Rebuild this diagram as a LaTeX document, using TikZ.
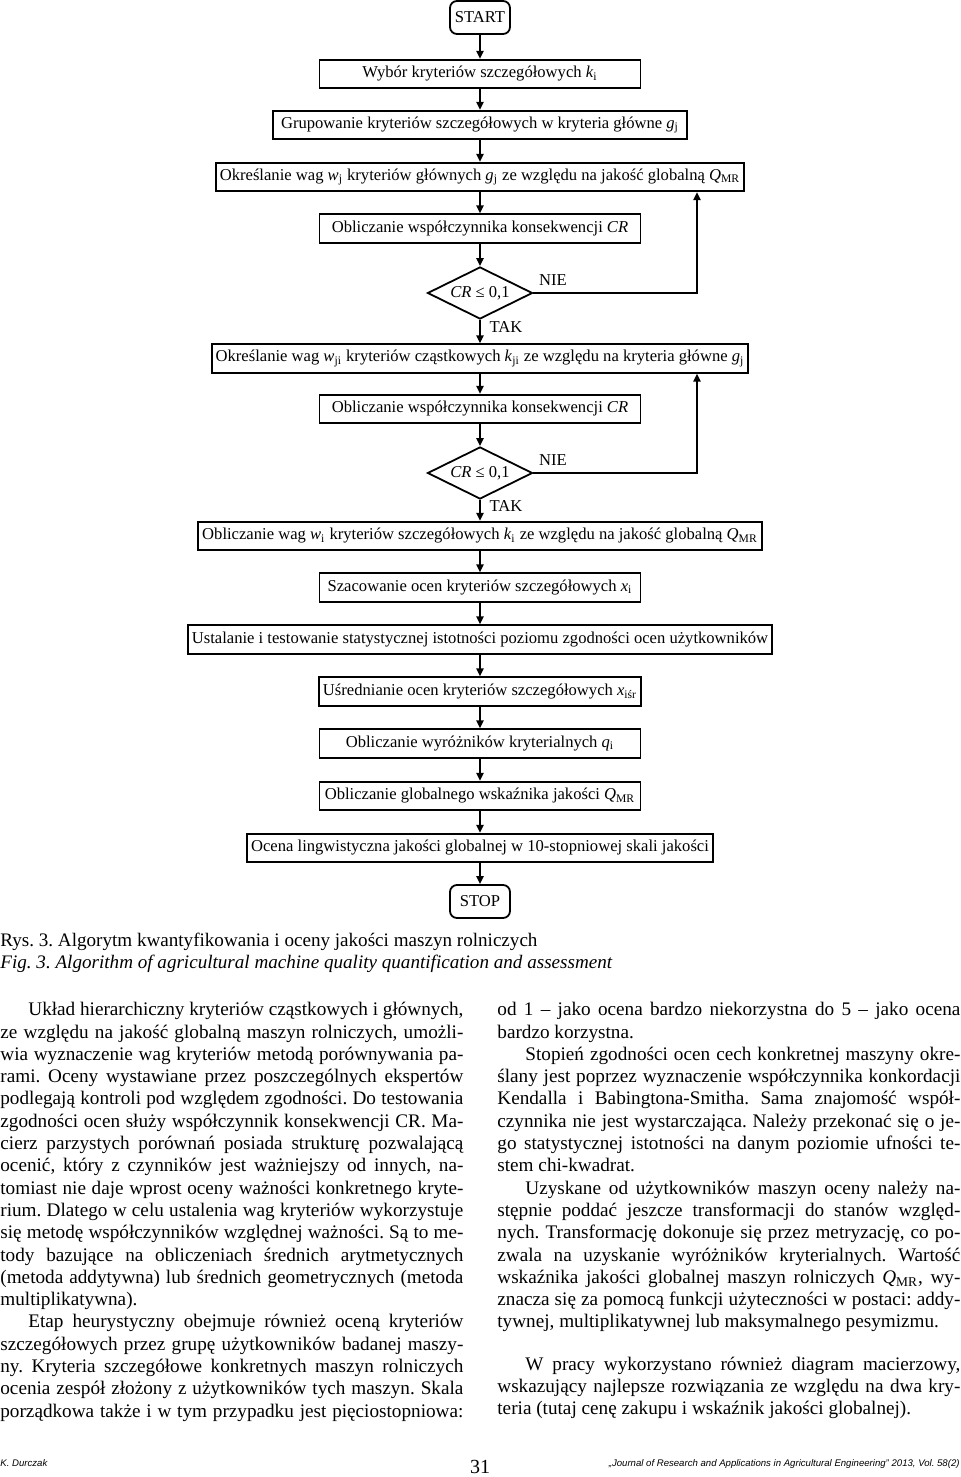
\documentclass[tikz,border=0pt]{standalone}
\usepackage{fontspec}
\setmainfont{Liberation Serif}
\newfontfamily\footsans{Liberation Sans}
\usetikzlibrary{shapes.geometric, arrows.meta, positioning, calc}
\frenchspacing
\newcommand\boxfont{\fontsize{8.3}{10}\selectfont}
\newcommand\bodyfont{\fontsize{9.6}{11.15}\selectfont\parindent=0pt\tolerance=10000\hyphenpenalty=10000\exhyphenpenalty=10000}
\newcommand\ind{\hspace*{14pt}}
\tikzset{
    stepbox/.style={
        rectangle, draw, line width=0.9pt, minimum width=160.5pt, minimum height=14.3pt,
        inner xsep=2pt, inner ysep=1pt, font=\boxfont
    },
    endbox/.style={stepbox, rounded corners=3.5pt, minimum width=30pt, minimum height=16.5pt},
    test/.style={diamond, aspect=2, draw, line width=0.9pt, minimum width=52.5pt, minimum height=26pt, inner sep=0pt, font=\boxfont},
    arrow/.style={-{Triangle[length=4pt, width=3.6pt]}, line width=0.9pt},
    answer/.style={font=\boxfont},
    captext/.style={anchor=base west, inner sep=0pt, font=\fontsize{9.55}{11}\selectfont},
    textcol/.style={anchor=north west, inner sep=0pt, text width=231.5pt, align=justify, font=\bodyfont},
    footer/.style={inner sep=0pt, font=\footsans\itshape\fontsize{4.8}{6}\selectfont},
}
\begin{document}
\begin{tikzpicture}[x=0.5pt, y=-0.5pt]
    \fill[white] (0,0) rectangle (960,1477);

    \node[endbox] (start) at (480,17.5) {START};
    \node[stepbox] (select) at (480,74) {Wybór kryteriów szczegółowych \textit{k}\textsubscript{i}};
    \node[stepbox, minimum width=207pt] (group) at (480,125) {Grupowanie kryteriów szczegółowych w kryteria główne \textit{g}\textsubscript{j}};
    \node[stepbox] (wmain) at (480,177) {Określanie wag \textit{w}\textsubscript{j} kryteriów głównych \textit{g}\textsubscript{j} ze względu na jakość globalną \textit{Q}\textsubscript{MR}};
    \node[stepbox] (cr1) at (480,228.5) {Obliczanie współczynnika konsekwencji \textit{CR}};
    \node[test] (test1) at (480,293) {\textit{CR} ≤ 0,1};
    \node[stepbox] (wpart) at (480,358.5) {Określanie wag \textit{w}\textsubscript{ji} kryteriów cząstkowych \textit{k}\textsubscript{ji} ze względu na kryteria główne \textit{g}\textsubscript{j}};
    \node[stepbox] (cr2) at (480,409) {Obliczanie współczynnika konsekwencji \textit{CR}};
    \node[test] (test2) at (480,473) {\textit{CR} ≤ 0,1};
    \node[stepbox] (wdet) at (480,536) {Obliczanie wag \textit{w}\textsubscript{i} kryteriów szczegółowych \textit{k}\textsubscript{i} ze względu na jakość globalną \textit{Q}\textsubscript{MR}};
    \node[stepbox] (rate) at (480,587.5) {Szacowanie ocen kryteriów szczegółowych \textit{x}\textsubscript{i}};
    \node[stepbox] (agree) at (480,639.5) {Ustalanie i testowanie statystycznej istotności poziomu zgodności ocen użytkowników};
    \node[stepbox] (mean) at (480,691.5) {Uśrednianie ocen kryteriów szczegółowych \textit{x}\textsubscript{iśr}};
    \node[stepbox] (marks) at (480,743.5) {Obliczanie wyróżników kryterialnych \textit{q}\textsubscript{i}};
    \node[stepbox] (index) at (480,796) {Obliczanie globalnego wskaźnika jakości \textit{Q}\textsubscript{MR}};
    \node[stepbox] (scale) at (480,848) {Ocena lingwistyczna jakości globalnej w 10-stopniowej skali jakości};
    \node[endbox] (stop) at (480,901.5) {STOP};
    \coordinate (back) at (697,0);

    \draw[arrow] (start) -- (select);
    \draw[arrow] (select) -- (group);
    \draw[arrow] (group) -- (wmain);
    \draw[arrow] (wmain) -- (cr1);
    \draw[arrow] (cr1) -- (test1);
    \draw[arrow] (test1) -- node[answer, right, pos=0.3, xshift=1pt] {TAK} (wpart);
    \draw[arrow] (test1.east) -- node[answer, above, pos=0.12] {NIE} (test1.east -| back) -- (back |- wmain.south);
    \draw[arrow] (wpart) -- (cr2);
    \draw[arrow] (cr2) -- (test2);
    \draw[arrow] (test2) -- node[answer, right, pos=0.3, xshift=1pt] {TAK} (wdet);
    \draw[arrow] (test2.east) -- node[answer, above, pos=0.12] {NIE} (test2.east -| back) -- (back |- wpart.south);
    \draw[arrow] (wdet) -- (rate);
    \draw[arrow] (rate) -- (agree);
    \draw[arrow] (agree) -- (mean);
    \draw[arrow] (mean) -- (marks);
    \draw[arrow] (marks) -- (index);
    \draw[arrow] (index) -- (scale);
    \draw[arrow] (scale) -- (stop);

    \node[captext] (rys) at (0,946) {Rys. 3. Algorytm kwantyfikowania i oceny jakości maszyn rolniczych};
    \node[captext] (fig) at (0,968) {\textit{Fig. 3. Algorithm of agricultural machine quality quantification and assessment}};

    \node[textcol] (left) at (0,1002) {\ind Układ hierarchiczny kryteriów cząstkowych i głównych,\linebreak
        ze względu na jakość globalną maszyn rolniczych, umożli-\linebreak
        wia wyznaczenie wag kryteriów metodą porównywania pa-\linebreak
        rami. Oceny wystawiane przez poszczególnych ekspertów\linebreak
        podlegają kontroli pod względem zgodności. Do testowania\linebreak
        zgodności ocen służy współczynnik konsekwencji CR. Ma-\linebreak
        cierz parzystych porównań posiada strukturę pozwalającą\linebreak
        ocenić, który z czynników jest ważniejszy od innych, na-\linebreak
        tomiast nie daje wprost oceny ważności konkretnego kryte-\linebreak
        rium. Dlatego w celu ustalenia wag kryteriów wykorzystuje\linebreak
        się metodę współczynników względnej ważności. Są to me-\linebreak
        tody bazujące na obliczeniach średnich arytmetycznych\linebreak
        (metoda addytywna) lub średnich geometrycznych (metoda\linebreak
        multiplikatywna).\par
        \ind Etap heurystyczny obejmuje również oceną kryteriów\linebreak
        szczegółowych przez grupę użytkowników badanej maszy-\linebreak
        ny. Kryteria szczegółowe konkretnych maszyn rolniczych\linebreak
        ocenia zespół złożony z użytkowników tych maszyn. Skala\linebreak
        {\parfillskip=0pt porządkowa także i w tym przypadku jest pięciostopniowa:\par}};
    \node[textcol] (right) at (497,1002) {od 1 – jako ocena bardzo niekorzystna do 5 – jako ocena\linebreak
        bardzo korzystna.\par
        \ind Stopień zgodności ocen cech konkretnej maszyny okre-\linebreak
        ślany jest poprzez wyznaczenie współczynnika konkordacji\linebreak
        Kendalla i Babingtona-Smitha. Sama znajomość współ-\linebreak
        czynnika nie jest wystarczająca. Należy przekonać się o je-\linebreak
        go statystycznej istotności na danym poziomie ufności te-\linebreak
        stem chi-kwadrat.\par
        \ind Uzyskane od użytkowników maszyn oceny należy na-\linebreak
        stępnie poddać jeszcze transformacji do stanów względ-\linebreak
        nych. Transformację dokonuje się przez metryzację, co po-\linebreak
        zwala na uzyskanie wyróżników kryterialnych. Wartość\linebreak
        wskaźnika jakości globalnej maszyn rolniczych \textit{Q}\textsubscript{MR}, wy-\linebreak
        znacza się za pomocą funkcji użyteczności w postaci: addy-\linebreak
        tywnej, multiplikatywnej lub maksymalnego pesymizmu.\par
        \vspace{9.9pt}
        \ind W pracy wykorzystano również diagram macierzowy,\linebreak
        wskazujący najlepsze rozwiązania ze względu na dwa kry-\linebreak
        teria (tutaj cenę zakupu i wskaźnik jakości globalnej).};

    \node[footer, anchor=base west] (author) at (0,1466) {K. Durczak};
    \node[anchor=base, inner sep=0pt, font=\fontsize{10}{12}\selectfont] (page) at (480,1473) {31};
    \node[footer, anchor=base east] (journal) at (960,1466) {„Journal of Research and Applications in Agricultural Engineering” 2013, Vol. 58(2)};
\end{tikzpicture}
\end{document}
